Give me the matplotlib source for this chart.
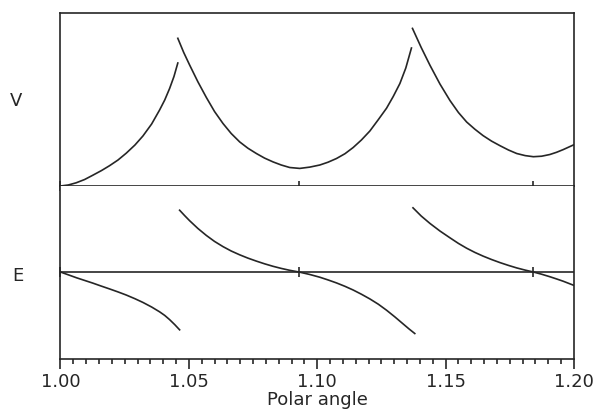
import matplotlib
matplotlib.use('Agg')
import matplotlib.pyplot as plt
from matplotlib.ticker import MultipleLocator

# ---- data ----
v1_angle = [1.0000, 1.0030, 1.0061, 1.0094, 1.0126, 1.0160, 1.0191, 1.0224, 1.0256,
            1.0290, 1.0321, 1.0355, 1.0386, 1.0406, 1.0425, 1.0442, 1.0457]
v1_value = [0, 1.0, 3.2, 6.5, 10.8, 15.5, 20.3, 26, 32.8,
            41, 50, 62, 76, 86, 97.5, 109.5, 123]

v2_angle = [1.0457, 1.0480, 1.0503, 1.0535, 1.0568, 1.0600, 1.0633, 1.0665, 1.0698,
            1.0730, 1.0763, 1.0795, 1.0828, 1.0860, 1.0893, 1.0932, 1.0971, 1.1010,
            1.1042, 1.1075, 1.1108, 1.1140, 1.1172, 1.1205, 1.1238, 1.1270, 1.1296,
            1.1322, 1.1345, 1.1367]
v2_value = [147.7, 133.5, 121, 104.3, 88.6, 74.5, 62.5, 52.5, 44.1,
            37.8, 32.5, 27.9, 24.1, 21, 18.5, 17.6, 18.9, 21.0,
            23.8, 27.5, 32.3, 38.5, 46, 55, 66.4, 77.8, 89.5,
            102.5, 118, 138]

v3_angle = [1.1371, 1.1405, 1.1439, 1.1478, 1.1517, 1.1550, 1.1582, 1.1614, 1.1646,
            1.1679, 1.1712, 1.1745, 1.1777, 1.1810, 1.1842, 1.1874, 1.1906, 1.1932,
            1.1958, 1.2000]
v3_value = [157.6, 138.5, 120.8, 102, 85.5, 73.5, 64, 56.8, 50.4,
            44.9, 40.3, 36, 32.5, 30.4, 29.3, 29.8, 31.5, 33.7,
            36.4, 41.3]

e1_angle = [1.0000, 1.0063, 1.0126, 1.0158, 1.0191, 1.0224, 1.0256, 1.0290, 1.0321,
            1.0355, 1.0386, 1.0406, 1.0425, 1.0445, 1.0464]
e1_value = [0, -5.8, -11.1, -14, -16.9, -19.9, -23, -26.7, -30.4,
            -35.0, -39.8, -43.4, -47.6, -52.6, -57.8]

e2_angle = [1.0464, 1.0484, 1.0503, 1.0535, 1.0568, 1.0600, 1.0633, 1.0665, 1.0698,
            1.0730, 1.0763, 1.0795, 1.0828, 1.0860, 1.0893, 1.0929, 1.0970, 1.1010,
            1.1042, 1.1075, 1.1108, 1.1140, 1.1172, 1.1205, 1.1238, 1.1270, 1.1302,
            1.1335, 1.1358, 1.1380]
e2_value = [61.8, 56.3, 51.3, 43.6, 36.6, 30.6, 25.4, 21.0, 17.2,
            13.9, 10.9, 8.2, 5.7, 3.6, 1.7, 0, -2.4, -5.2,
            -7.9, -10.9, -14.3, -18.0, -22.2, -26.9, -32.2, -38.2, -44.8,
            -52.0, -57.0, -61.5]

e3_angle = [1.1373, 1.1405, 1.1439, 1.1478, 1.1517, 1.1550, 1.1582, 1.1614, 1.1646,
            1.1679, 1.1712, 1.1745, 1.1777, 1.1810, 1.1842, 1.1874, 1.1906, 1.1932,
            1.1958, 1.2000]
e3_value = [64.2, 56.0, 48.6, 41.0, 34.2, 28.6, 23.8, 19.6, 15.9,
            12.5, 9.4, 6.6, 4.1, 1.9, 0, -2.2, -4.7, -6.9,
            -9.2, -13.4]

mark_angles = [1.0000, 1.0929, 1.1842]

xtick_pos = [1.00, 1.05, 1.10, 1.15, 1.20]
xtick_labels = ['1.00', '1.05', '1.10', '1.15', '1.20']

# ---- figure ----
c = '#262626'
lw = 1.2
fs = 13

fig = plt.figure(figsize=(5.93, 4.09), dpi=100)
axV = fig.add_axes([0.1020, 0.5452, 0.8659, 0.4230])
axE = fig.add_axes([0.1020, 0.1222, 0.8659, 0.4230])

for ax in (axV, axE):
    ax.set_xlim(1.0, 1.2)
    for s in ax.spines.values():
        s.set_color(c)
        s.set_linewidth(lw)

# V panel
axV.set_ylim(0, 173)
axV.tick_params(bottom=False, labelbottom=False, left=False, labelleft=False)
for xs, ys in ((v1_angle, v1_value), (v2_angle, v2_value), (v3_angle, v3_value)):
    axV.plot(xs, ys, color=c, lw=lw, solid_joinstyle='round')
axV.plot(mark_angles, [0] * len(mark_angles), ls='none', marker='|', ms=7,
         mew=lw, color=c, clip_on=False)

# E panel
axE.set_ylim(-87, 86)
axE.spines['top'].set_visible(False)
axE.axhline(0, color=c, lw=lw)
for xs, ys in ((e1_angle, e1_value), (e2_angle, e2_value), (e3_angle, e3_value)):
    axE.plot(xs, ys, color=c, lw=lw, solid_joinstyle='round')
axE.plot(mark_angles, [0] * len(mark_angles), ls='none', marker='|', ms=7,
         mew=lw, color=c, clip_on=False)
axE.tick_params(left=False, labelleft=False)
axE.set_xticks(xtick_pos)
axE.set_xticklabels(xtick_labels, fontsize=fs, color=c)
axE.xaxis.set_minor_locator(MultipleLocator(0.005))
axE.tick_params(axis='x', which='major', direction='out', length=7, width=lw, color=c, pad=3)
axE.tick_params(axis='x', which='minor', direction='out', length=3.5, width=lw, color=c)

fig.text(16 / 593, 1 - 101 / 409, 'V', ha='center', va='center', fontsize=fs, color=c)
fig.text(18 / 593, 1 - 276 / 409, 'E', ha='center', va='center', fontsize=fs, color=c)
fig.text(317 / 593, 1 - 400 / 409, 'Polar angle', ha='center', va='center', fontsize=fs, color=c)

fig.savefig('out.png', dpi=100, facecolor='white')
